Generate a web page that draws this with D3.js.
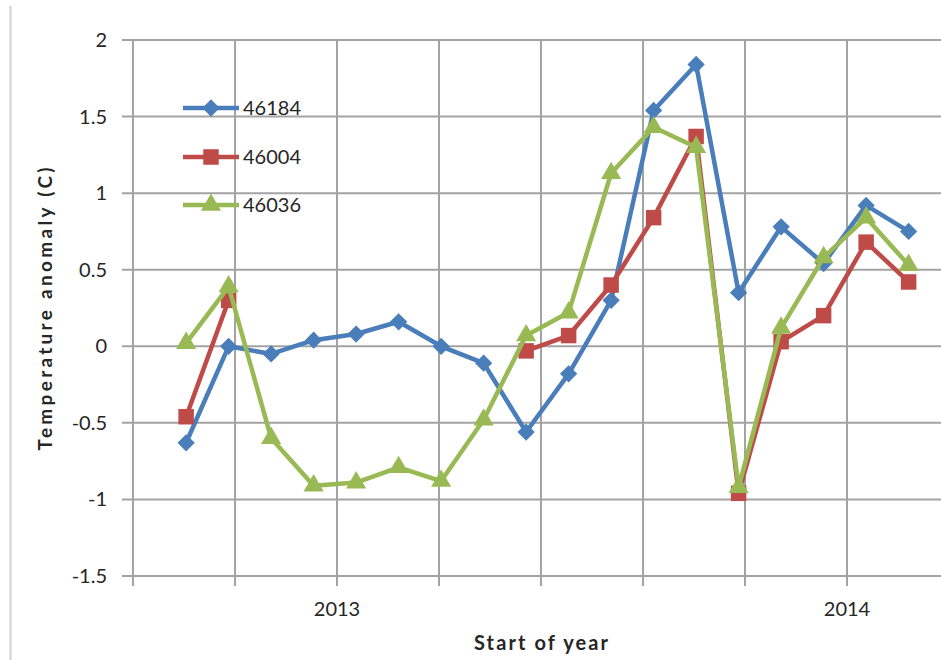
<!DOCTYPE html>
<html>
<head>
<meta charset="utf-8">
<script src="https://cdn.jsdelivr.net/npm/d3@7"></script>
<style>
  html, body { margin: 0; padding: 0; background: #fff; }
  svg { display: block; font-family: Lato, "Liberation Sans", sans-serif; }
</style>
</head>
<body>
<svg id="chart" width="941" height="660"></svg>
<script>
// Monthly observations, Sep 2012 – Feb 2014 (mid-month positions)
const months = ["2012-09","2012-10","2012-11","2012-12","2013-01","2013-02","2013-03","2013-04","2013-05",
                "2013-06","2013-07","2013-08","2013-09","2013-10","2013-11","2013-12","2014-01","2014-02"];

const buoy46184 = [-0.63, 0.00, -0.05, 0.04, 0.08, 0.16, 0.00, -0.11, -0.56, -0.18, 0.30, 1.54, 1.84, 0.35, 0.78, 0.54, 0.92, 0.75];
const buoy46004 = [-0.46, 0.30, null, null, null, null, null, null, -0.03, 0.07, 0.40, 0.84, 1.37, -0.96, 0.03, 0.20, 0.68, 0.42];
const buoy46036 = [0.02, 0.39, -0.60, -0.91, -0.89, -0.79, -0.88, -0.48, 0.07, 0.22, 1.13, 1.43, 1.30, -0.92, 0.12, 0.58, 0.84, 0.53];

const seriesNames = ["46184", "46004", "46036"];
const yTicks = [2, 1.5, 1, 0.5, 0, -0.5, -1, -1.5];
const xGrid = [2012.6, 2012.8, 2013.0, 2013.2, 2013.4, 2013.6, 2013.8, 2014.0, 2014.2];
const xLabels = [2013, 2014];

const colors = ["#4A7EBB", "#BE4B48", "#98B954"];

// square diamond (rotated square) marker
const squareDiamond = {
  draw(ctx, size) {
    const r = Math.sqrt(size) * 0.62625;
    ctx.moveTo(0, -r); ctx.lineTo(r, 0); ctx.lineTo(0, r); ctx.lineTo(-r, 0); ctx.closePath();
  }
};
const symbols = [squareDiamond, d3.symbolSquare, d3.symbolTriangle];
const symbolSizes = [190, 240, 175];

// decimal year at the middle of each month
const xVals = months.map(m => {
  const [yr, mo] = m.split("-").map(Number);
  return yr + (mo - 1 + 0.45) / 12;
});

const svg = d3.select("#chart");
const plotLeft = 133, plotTop = 40, plotBottom = 576;

const x = d3.scaleLinear().domain([2012.6, 2014.2]).range([plotLeft, 949]);
const y = d3.scaleLinear().domain([-1.5, 2]).range([plotBottom, plotTop]);

const gridColor = "#A3A3A3";
const textColor = "#262626";

// outer frame edge on the left
svg.append("line").attr("x1", 10.5).attr("x2", 10.5).attr("y1", 6).attr("y2", 660)
  .attr("stroke", "#D0D0D0").attr("stroke-width", 2);

// horizontal gridlines with outward tick marks
const gY = svg.append("g");
gY.selectAll("line").data(yTicks).join("line")
  .attr("x1", plotLeft - 11).attr("x2", 941)
  .attr("y1", d => y(d)).attr("y2", d => y(d))
  .attr("stroke", gridColor).attr("stroke-width", 2);
gY.selectAll("text").data(yTicks).join("text")
  .attr("x", 107).attr("y", d => y(d)).attr("dy", "0.35em")
  .attr("text-anchor", "end").attr("font-size", 20).attr("fill", textColor)
  .text(d => String(d));

// vertical gridlines with outward tick marks
const gX = svg.append("g");
gX.selectAll("line").data(xGrid).join("line")
  .attr("x1", d => x(d)).attr("x2", d => x(d))
  .attr("y1", plotTop).attr("y2", plotBottom + 10)
  .attr("stroke", gridColor).attr("stroke-width", 2);
gX.selectAll("text").data(xLabels).join("text")
  .attr("x", d => x(d)).attr("y", 616)
  .attr("text-anchor", "middle").attr("font-size", 20).attr("fill", textColor)
  .text(d => d);

// axis titles
svg.append("text").attr("x", 541).attr("y", 650).attr("text-anchor", "middle")
  .attr("font-size", 20).attr("font-weight", "bold").attr("fill", textColor)
  .attr("textLength", 134).attr("lengthAdjust", "spacing")
  .text("Start of year");
svg.append("text").attr("transform", "translate(52,309) rotate(-90)")
  .attr("text-anchor", "middle").attr("font-size", 19).attr("font-weight", "bold").attr("fill", textColor)
  .attr("textLength", 283).attr("lengthAdjust", "spacing")
  .text("Temperature anomaly (C)");

// series
const allSeries = [buoy46184, buoy46004, buoy46036];
const line = d3.line().defined(d => d.v !== null).x(d => x(d.x)).y(d => y(d.v));

allSeries.forEach((vals, i) => {
  const pts = vals.map((v, j) => ({ x: xVals[j], v }));
  const g = svg.append("g");
  g.append("path").datum(pts).attr("d", line)
    .attr("fill", "none").attr("stroke", colors[i]).attr("stroke-width", 4.5).attr("stroke-linejoin", "round");
  g.selectAll("path.m").data(pts.filter(d => d.v !== null)).join("path").attr("class", "m")
    .attr("transform", d => `translate(${x(d.x)},${y(d.v)})`)
    .attr("d", d3.symbol().type(symbols[i]).size(symbolSizes[i]))
    .attr("fill", colors[i]);
});

// legend
const legendY = [108, 157, 205];
seriesNames.forEach((name, i) => {
  const g = svg.append("g").attr("transform", `translate(0,${legendY[i]})`);
  g.append("line").attr("x1", 183).attr("x2", 239).attr("y1", 0).attr("y2", 0)
    .attr("stroke", colors[i]).attr("stroke-width", 4.5);
  g.append("path").attr("transform", "translate(211,0)")
    .attr("d", d3.symbol().type(symbols[i]).size(symbolSizes[i])).attr("fill", colors[i]);
  g.append("text").attr("x", 243).attr("y", 0).attr("dy", "0.36em")
    .attr("font-size", 20).attr("fill", textColor).text(name);
});
</script>
</body>
</html>
